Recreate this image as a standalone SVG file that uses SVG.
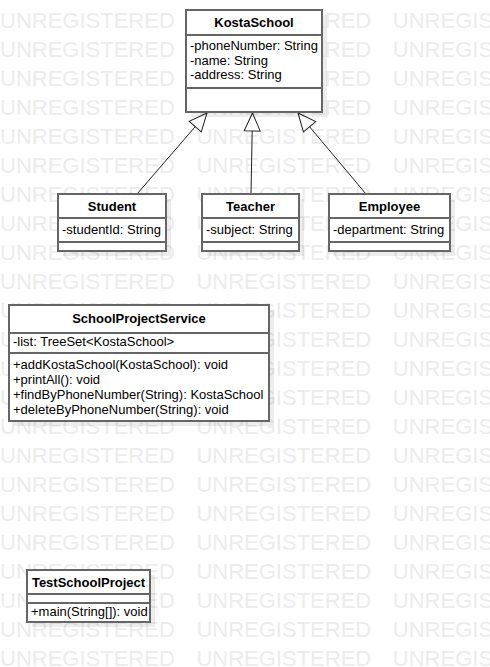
<svg xmlns="http://www.w3.org/2000/svg" width="490" height="667" viewBox="0 0 490 667">
<style>
.wm{font-family:"Liberation Sans",Arial,sans-serif;font-size:22px;fill:#ececec;word-spacing:15.5px}
.box{fill:#fff;stroke:#666;stroke-width:2}
.sh{fill:#000;fill-opacity:0.07}
.sep{stroke:#666;stroke-width:2}
.t{font-family:"Liberation Sans",Arial,sans-serif;font-size:13px;fill:#000}
.h{font-weight:bold;text-anchor:middle}
.edge{stroke:#222;stroke-width:1;fill:none}
</style>
<defs>
<marker id="gen" markerUnits="userSpaceOnUse" markerWidth="20" markerHeight="20" viewBox="-1 -10 20 20" refX="18" refY="0" orient="auto">
<path d="M18,0 L0,-8 L0,8 Z" fill="#fff" stroke="#222" stroke-width="1"/>
</marker>
</defs>
<rect width="490" height="667" fill="#fff"/>
<g id="watermark">
<text class="wm" x="0" y="28">UNREGISTERED UNREGISTERED UNREGISTERED</text>
<text class="wm" x="0" y="57">UNREGISTERED UNREGISTERED UNREGISTERED</text>
<text class="wm" x="0" y="86">UNREGISTERED UNREGISTERED UNREGISTERED</text>
<text class="wm" x="0" y="115">UNREGISTERED UNREGISTERED UNREGISTERED</text>
<text class="wm" x="0" y="144">UNREGISTERED UNREGISTERED UNREGISTERED</text>
<text class="wm" x="0" y="173">UNREGISTERED UNREGISTERED UNREGISTERED</text>
<text class="wm" x="0" y="202">UNREGISTERED UNREGISTERED UNREGISTERED</text>
<text class="wm" x="0" y="231">UNREGISTERED UNREGISTERED UNREGISTERED</text>
<text class="wm" x="0" y="260">UNREGISTERED UNREGISTERED UNREGISTERED</text>
<text class="wm" x="0" y="289">UNREGISTERED UNREGISTERED UNREGISTERED</text>
<text class="wm" x="0" y="318">UNREGISTERED UNREGISTERED UNREGISTERED</text>
<text class="wm" x="0" y="347">UNREGISTERED UNREGISTERED UNREGISTERED</text>
<text class="wm" x="0" y="376">UNREGISTERED UNREGISTERED UNREGISTERED</text>
<text class="wm" x="0" y="405">UNREGISTERED UNREGISTERED UNREGISTERED</text>
<text class="wm" x="0" y="434">UNREGISTERED UNREGISTERED UNREGISTERED</text>
<text class="wm" x="0" y="463">UNREGISTERED UNREGISTERED UNREGISTERED</text>
<text class="wm" x="0" y="492">UNREGISTERED UNREGISTERED UNREGISTERED</text>
<text class="wm" x="0" y="521">UNREGISTERED UNREGISTERED UNREGISTERED</text>
<text class="wm" x="0" y="550">UNREGISTERED UNREGISTERED UNREGISTERED</text>
<text class="wm" x="0" y="579">UNREGISTERED UNREGISTERED UNREGISTERED</text>
<text class="wm" x="0" y="608">UNREGISTERED UNREGISTERED UNREGISTERED</text>
<text class="wm" x="0" y="637">UNREGISTERED UNREGISTERED UNREGISTERED</text>
<text class="wm" x="0" y="666">UNREGISTERED UNREGISTERED UNREGISTERED</text>
</g>
<g id="connectors">
<line class="edge" x1="137" y1="194" x2="207" y2="113" marker-end="url(#gen)"/>
<line class="edge" x1="251" y1="194" x2="252.5" y2="113" marker-end="url(#gen)"/>
<line class="edge" x1="366" y1="194" x2="298" y2="113" marker-end="url(#gen)"/>
</g>
<g id="KostaSchool">
<rect class="sh" x="191" y="15" width="136" height="102"/>
<rect class="box" x="186" y="10" width="136" height="102"/>
<line class="sep" x1="186" y1="35" x2="322" y2="35"/>
<line class="sep" x1="186" y1="88" x2="322" y2="88"/>
<text class="t h" x="254" y="27">KostaSchool</text>
<text class="t" x="190" y="50">-phoneNumber: String</text>
<text class="t" x="190" y="64.5">-name: String</text>
<text class="t" x="190" y="79">-address: String</text>
</g>
<g id="Student">
<rect class="sh" x="63" y="199" width="108" height="57"/>
<rect class="box" x="58" y="194" width="108" height="57"/>
<line class="sep" x1="58" y1="218" x2="166" y2="218"/>
<line class="sep" x1="58" y1="242" x2="166" y2="242"/>
<text class="t h" x="112" y="211">Student</text>
<text class="t" x="62" y="234">-studentId: String</text>
</g>
<g id="Teacher">
<rect class="sh" x="207" y="199" width="97" height="57"/>
<rect class="box" x="202" y="194" width="97" height="57"/>
<line class="sep" x1="202" y1="218" x2="299" y2="218"/>
<line class="sep" x1="202" y1="242" x2="299" y2="242"/>
<text class="t h" x="250.5" y="211">Teacher</text>
<text class="t" x="206" y="234">-subject: String</text>
</g>
<g id="Employee">
<rect class="sh" x="334" y="199" width="121" height="57"/>
<rect class="box" x="329" y="194" width="121" height="57"/>
<line class="sep" x1="329" y1="218" x2="450" y2="218"/>
<line class="sep" x1="329" y1="242" x2="450" y2="242"/>
<text class="t h" x="389.5" y="211">Employee</text>
<text class="t" x="333" y="234">-department: String</text>
</g>
<g id="SchoolProjectService">
<rect class="sh" x="14" y="310" width="260" height="116"/>
<rect class="box" x="9" y="305" width="260" height="116"/>
<line class="sep" x1="9" y1="333" x2="269" y2="333"/>
<line class="sep" x1="9" y1="353" x2="269" y2="353"/>
<text class="t h" x="139" y="323">SchoolProjectService</text>
<text class="t" x="13" y="345.5">-list: TreeSet&lt;KostaSchool&gt;</text>
<text class="t" x="13" y="368.5">+addKostaSchool(KostaSchool): void</text>
<text class="t" x="13" y="383.5">+printAll(): void</text>
<text class="t" x="13" y="398.5">+findByPhoneNumber(String): KostaSchool</text>
<text class="t" x="13" y="413.5">+deleteByPhoneNumber(String): void</text>
</g>
<g id="TestSchoolProject">
<rect class="sh" x="32" y="575" width="123" height="52"/>
<rect class="box" x="27" y="570" width="123" height="52"/>
<line class="sep" x1="27" y1="594" x2="150" y2="594"/>
<line class="sep" x1="27" y1="603" x2="150" y2="603"/>
<text class="t h" x="88.5" y="587">TestSchoolProject</text>
<text class="t" x="31" y="615.5">+main(String[]): void</text>
</g>
</svg>
